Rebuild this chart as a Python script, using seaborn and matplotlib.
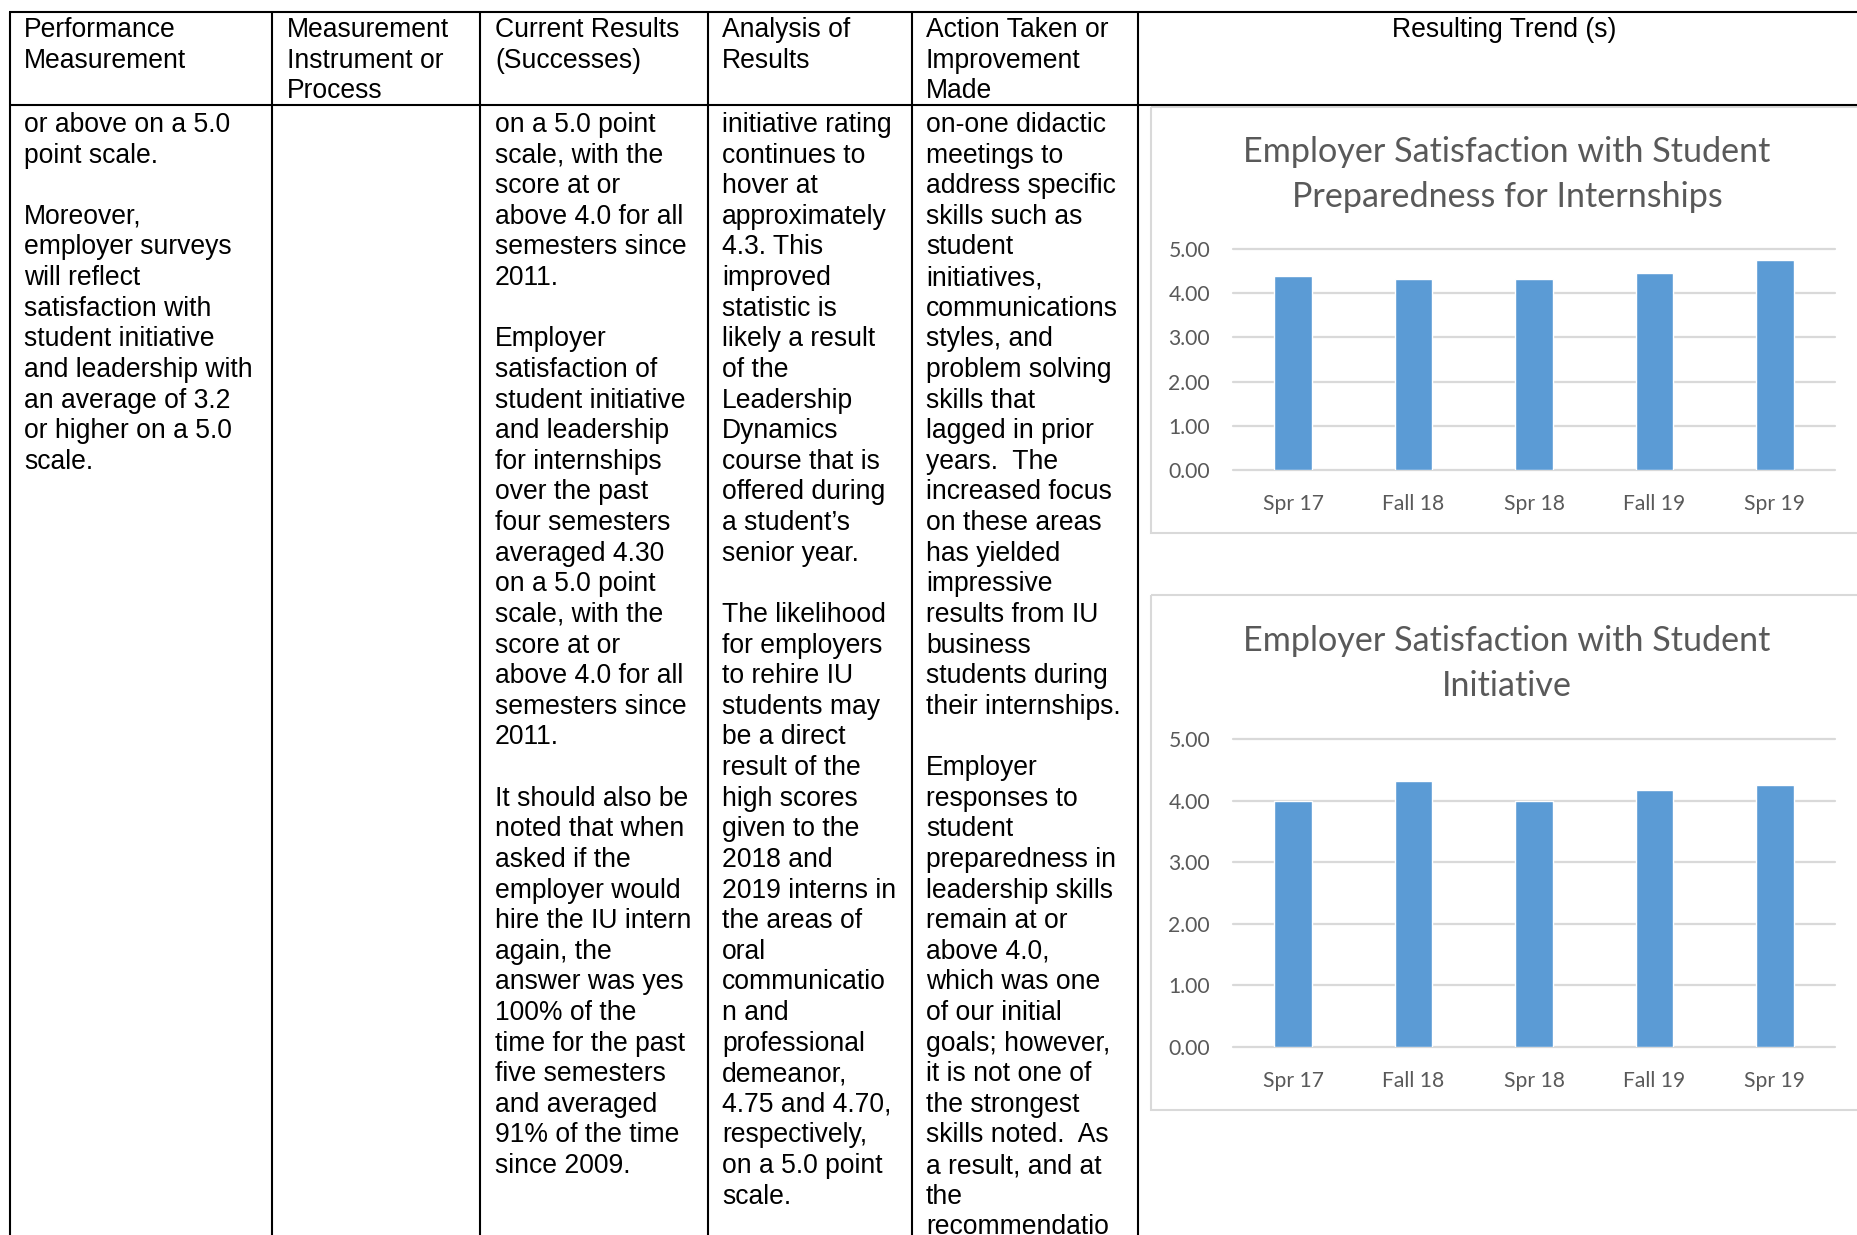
import seaborn as sns
import matplotlib.pyplot as plt
from matplotlib.patches import Rectangle

W, H = 1857, 1235

# chart data
semesters = ["Spr 17", "Fall 18", "Spr 18", "Fall 19", "Spr 19"]
preparedness = [4.40, 4.32, 4.31, 4.46, 4.76]
initiative = [4.00, 4.32, 4.00, 4.17, 4.25]
y_ticks = [0, 1, 2, 3, 4, 5]

# table text
headers = [
    ["Performance", "Measurement"],
    ["Measurement", "Instrument or", "Process"],
    ["Current Results", "(Successes)"],
    ["Analysis of", "Results"],
    ["Action Taken or", "Improvement", "Made"],
]
trend_header = "Resulting Trend (s)"

col_performance = [
    "or above on a 5.0", "point scale.", "",
    "Moreover,", "employer surveys", "will reflect", "satisfaction with",
    "student initiative", "and leadership with", "an average of 3.2",
    "or higher on a 5.0", "scale.",
]
col_instrument = []
col_results = [
    "on a 5.0 point", "scale, with the", "score at or", "above 4.0 for all",
    "semesters since", "2011.", "",
    "Employer", "satisfaction of", "student initiative", "and leadership",
    "for internships", "over the past", "four semesters", "averaged 4.30",
    "on a 5.0 point", "scale, with the", "score at or", "above 4.0 for all",
    "semesters since", "2011.", "",
    "It should also be", "noted that when", "asked if the", "employer would",
    "hire the IU intern", "again, the", "answer was yes", "100% of the",
    "time for the past", "five semesters", "and averaged", "91% of the time",
    "since 2009.",
]
col_analysis = [
    "initiative rating", "continues to", "hover at", "approximately",
    "4.3. This", "improved", "statistic is", "likely a result", "of the",
    "Leadership", "Dynamics", "course that is", "offered during",
    "a student\u2019s", "senior year.", "",
    "The likelihood", "for employers", "to rehire IU", "students may",
    "be a direct", "result of the", "high scores", "given to the",
    "2018 and", "2019 interns in", "the areas of", "oral", "communicatio",
    "n and", "professional", "demeanor,", "4.75 and 4.70,", "respectively,",
    "on a 5.0 point", "scale.",
]
col_action = [
    "on-one didactic", "meetings to", "address specific", "skills such as",
    "student", "initiatives,", "communications", "styles, and",
    "problem solving", "skills that", "lagged in prior", "years.  The",
    "increased focus", "on these areas", "has yielded", "impressive",
    "results from IU", "business", "students during", "their internships.", "",
    "Employer", "responses to", "student", "preparedness in",
    "leadership skills", "remain at or", "above 4.0,", "which was one",
    "of our initial", "goals; however,", "it is not one of", "the strongest",
    "skills noted.  As", "a result, and at", "the", "recommendatio",
]
columns = [col_performance, col_instrument, col_results, col_analysis, col_action]

sns.set_theme(style="white")
plt.rcParams['font.family'] = ['Liberation Sans', 'DejaVu Sans']

fig = plt.figure(figsize=(W / 100, H / 100), dpi=100)
bg = fig.add_axes([0, 0, 1, 1])
bg.set_xlim(0, W)
bg.set_ylim(H, 0)
bg.axis('off')

# table grid
col_lines = [10, 272, 480, 708, 912, 1137.5]
text_x = [24, 287, 495, 722, 926]
bg.vlines(col_lines, 12, H + 5, color='black', lw=1.5)
bg.hlines([12, 105], 9, W + 5, color='black', lw=1.5)

fs_table = 19.1
line_h = 30.62
for x, lines in zip(text_x, headers):
    for i, t in enumerate(lines):
        bg.text(x, 37 + i * line_h, t, fontsize=fs_table, va='baseline', color='black')
bg.text(1504, 37, trend_header, fontsize=fs_table, va='baseline', ha='center', color='black')

for x, lines in zip(text_x, columns):
    for i, t in enumerate(lines):
        if t:
            bg.text(x, 132 + i * line_h, t, fontsize=fs_table, va='baseline', color='black')

# chart frames
bg.add_patch(Rectangle((1151, 107), W, 426, fill=False, edgecolor='#D9D9D9', lw=1.5))
bg.add_patch(Rectangle((1151, 595), W, 515, fill=False, edgecolor='#D9D9D9', lw=1.5))

title_font = ['Lato', 'DejaVu Sans']
titles = [
    (["Employer Satisfaction with Student", "Preparedness for Internships"], 162),
    (["Employer Satisfaction with Student", "Initiative"], 651),
]
for lines, y0 in titles:
    for i, t in enumerate(lines):
        bg.text(1507, y0 + i * 45, t, fontsize=24.6, ha='center', va='baseline',
                color='#595959', family=title_font)


def draw_chart(rect, values):
    left, top, right, bottom = rect
    ax = fig.add_axes([left / W, 1 - bottom / H, (right - left) / W, (bottom - top) / H])
    sns.barplot(x=semesters, y=values, color='#5B9BD5', saturation=1,
                width=0.313, ax=ax, zorder=3)
    ax.set_xlim(-0.5, 4.5)
    ax.set_ylim(0, 5)
    ax.set_yticks(y_ticks)
    ax.set_yticklabels([f"{v:.2f}" for v in y_ticks])
    ax.yaxis.grid(True, color='#D9D9D9', lw=1.6)
    ax.xaxis.grid(False)
    for gl in ax.get_ygridlines():
        gl.set_clip_on(False)
    ax.set_axisbelow(True)
    for s in ax.spines.values():
        s.set_visible(False)
    ax.tick_params(axis='y', length=0, pad=16.5, labelsize=15.2, labelcolor='#595959')
    ax.tick_params(axis='x', length=0, pad=17.5, labelsize=15.2, labelcolor='#595959')
    for lab in ax.get_xticklabels() + ax.get_yticklabels():
        lab.set_family(title_font)
    ax.set_xlabel('')
    ax.set_ylabel('')
    ax.patch.set_alpha(0)
    return ax


draw_chart((1233, 249, 1835, 470), preparedness)
draw_chart((1233, 739, 1835, 1047), initiative)

fig.savefig('out.png', dpi=100, facecolor='white')
